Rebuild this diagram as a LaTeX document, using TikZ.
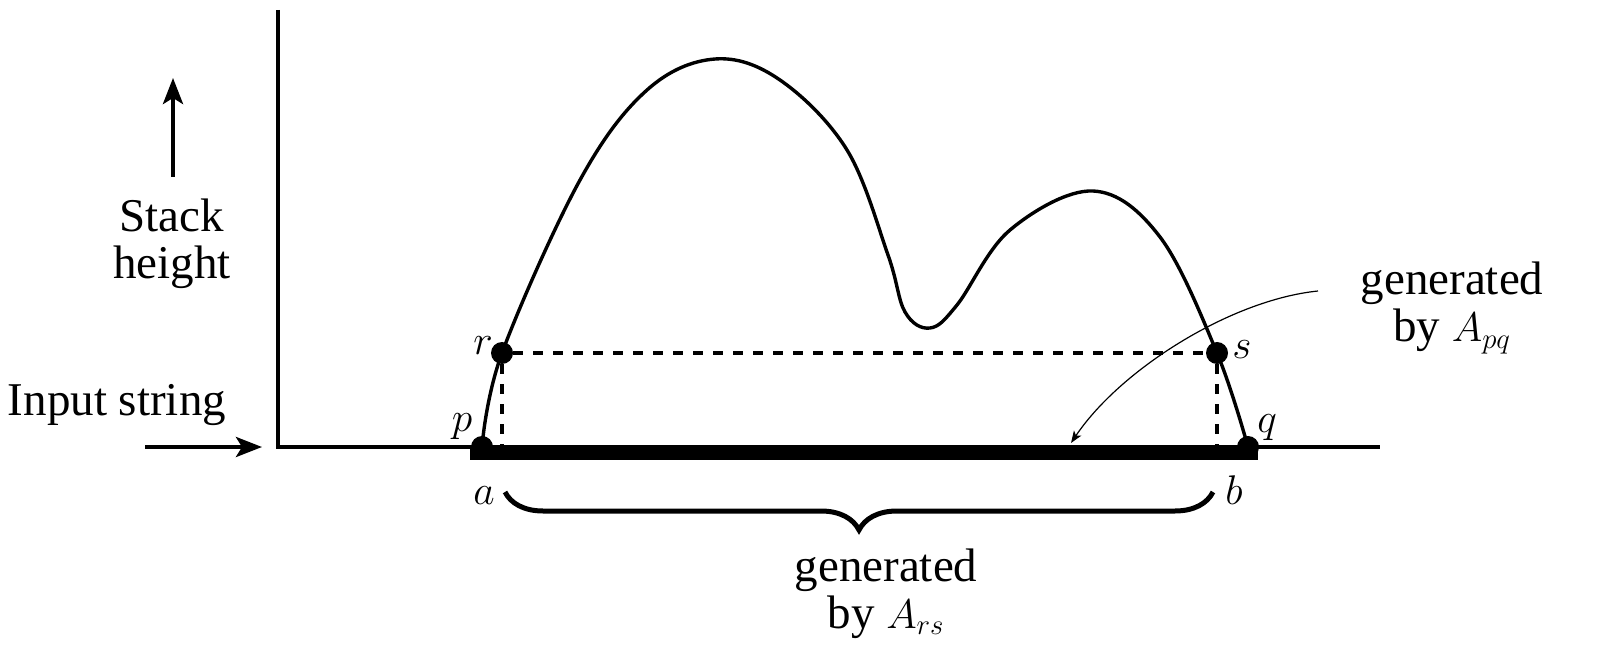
\documentclass[tikz,border=0pt]{standalone}
\usepackage{fontspec}
\setmainfont{Liberation Serif}
\usetikzlibrary{arrows.meta,decorations.pathreplacing}
\begin{document}
\begin{tikzpicture}[x=0.5pt,y=-0.5pt,
  axis/.style={line width=2pt},
  curveline/.style={line width=1.7pt},
  dashline/.style={line width=1.8pt, dash pattern=on 5pt off 5pt},
  dot/.style={circle, fill=black, inner sep=0pt, minimum size=11pt},
  lbl/.style={font=\fontsize{23.5}{23.5}\selectfont, align=center, inner sep=0pt},
  mlbl/.style={font=\fontsize{20}{20}\selectfont, inner sep=0pt, anchor=base},
  bigarrow/.style={line width=2pt, -{Stealth[length=13pt,width=10pt,inset=3pt]}},
  thinarrow/.style={line width=0.6pt, -{Stealth[length=6pt,width=4.5pt,inset=1.5pt]}},
  bracestyle/.style={decorate, decoration={brace, mirror, amplitude=19pt}, line width=2.5pt},
]
\useasboundingbox (0,0) rectangle (1615,662);
% axes
\coordinate (O) at (278,447);
\coordinate (ytop) at (278,10);
\coordinate (xend) at (1380,447);
\draw[axis] (ytop) -- (O) -- (xend);
% thick input segment
\fill (470,445) rectangle (1258,460);
\coordinate (bartop) at (0,445);
% key points
\coordinate (P) at (482,447);
\coordinate (R) at (502,353);
\coordinate (S) at (1217,353);
\coordinate (Q) at (1248,447);
% curve
\draw[curveline] plot[smooth, tension=0.6] coordinates {(P) (R) (580,180) (647,90) (715,59) (780,80) (847,150) (888,255) (905,312) (930,328) (957,305) (1010,230) (1093,191) (1160,237) (S) (Q)};
% dots
\node[dot] (p) at (P) {};
\node[dot] (r) at (R) {};
\node[dot] (s) at (S) {};
\node[dot] (q) at (Q) {};
% dashed lines
\draw[dashline] (r) -- (s);
\draw[dashline] (r) -- (r |- bartop);
\draw[dashline] (s) -- (s |- bartop);
% point labels
\node[mlbl] (rl) at (483,355) {$r$};
\node[mlbl] (sl) at (1242,358) {$s$};
\node[mlbl] (pl) at (462,431) {$p$};
\node[mlbl] (ql) at (1267,432) {$q$};
\node[mlbl] (al) at (484,504) {$a$};
\node[mlbl] (bl) at (1234,504) {$b$};
% brace
\coordinate (brl) at (505,492);
\coordinate (brr) at (1213,492);
\draw[bracestyle] (brl) -- (brr);
% texts
\node[lbl] (stack) at (172,244) {Stack\\height};
\node[lbl] (input) at (117,405) {Input string};
\node[lbl] (apq) at (1452,308) {generated\\by {\fontsize{20}{20}\selectfont$A_{pq}$}};
\node[lbl] (ars) at (886,594) {generated\\by {\fontsize{20}{20}\selectfont$A_{rs}$}};
% arrows
\coordinate (upS) at (173,177);
\coordinate (upE) at (173,78);
\draw[bigarrow] (upS) -- (upE);
\coordinate (inS) at (145,447);
\coordinate (inE) at (262,447);
\draw[bigarrow] (inS) -- (inE);
\coordinate (thinS) at (1318,291);
\coordinate (thinE) at (1071,443);
\draw[thinarrow] (thinS) .. controls (1230,300) and (1120,370) .. (thinE);
\end{tikzpicture}
\end{document}
